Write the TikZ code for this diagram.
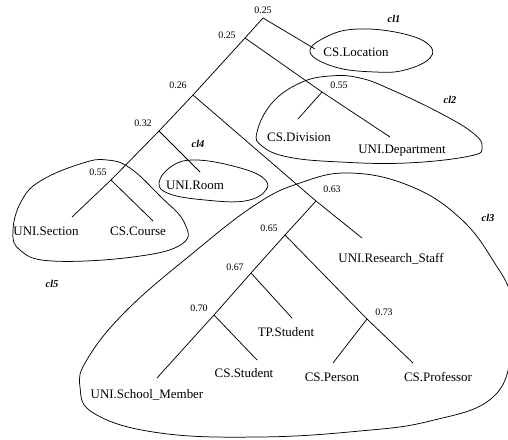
\documentclass[tikz,border=0pt]{standalone}
\usepackage{fontspec}
\setmainfont{Liberation Serif}
\begin{document}
\begin{tikzpicture}[x=1bp,y=-1bp,
  branch/.style={line width=0.75pt},
  leaf/.style={font=\fontsize{13}{15}\selectfont, inner sep=0pt},
  score/.style={font=\fontsize{10}{12}\selectfont, inner sep=0pt},
  clname/.style={font=\fontsize{10.5}{12}\selectfont\bfseries\itshape, inner sep=0pt},
  cluster/.style={line width=0.75pt, smooth cycle, tension=0.7}]
\useasboundingbox (0,0) rectangle (508,440);

% junctions of the dendrogram
\coordinate (r)    at (263,18);
\coordinate (a)    at (245,38);
\coordinate (b)    at (193,95);
\coordinate (c)    at (159,131);
\coordinate (d)    at (111,180);
\coordinate (e)    at (322,92);
\coordinate (f)    at (316,201);
\coordinate (g)    at (285,235);
\coordinate (h)    at (251,273);
\coordinate (k)    at (214,315);
\coordinate (m)    at (367,319);

% free ends of the leaf branches
\coordinate (tLoc)  at (315,49);
\coordinate (tDiv)  at (298,119);
\coordinate (tDep)  at (390,137);
\coordinate (tRoom) at (200,172);
\coordinate (tSec)  at (72,217);
\coordinate (tCou)  at (153,221);
\coordinate (tRS)   at (362,238);
\coordinate (tTP)   at (292,318);
\coordinate (tCSS)  at (257,360);
\coordinate (tSch)  at (157,378);
\coordinate (tPer)  at (333,363);
\coordinate (tPro)  at (413,363);

% similarity scores
\node[score] (sr) at (263,10)  {0.25};
\node[score] (sa) at (227,35)  {0.25};
\node[score] (sb) at (178,85)  {0.26};
\node[score] (sc) at (143,123) {0.32};
\node[score] (sd) at (98,172)  {0.55};
\node[score] (se) at (339,85)  {0.55};
\node[score] (sf) at (332,189) {0.63};
\node[score] (sg) at (269,228) {0.65};
\node[score] (sh) at (235,267) {0.67};
\node[score] (sk) at (199,308) {0.70};
\node[score] (sm) at (384,312) {0.73};

% leaves
\node[leaf] (loc)  at (356,52)  {CS.Location};
\node[leaf] (div)  at (299,137) {CS.Division};
\node[leaf] (dep)  at (402,151) {UNI.Department};
\node[leaf] (room) at (195,185) {UNI.Room};
\node[leaf] (sec)  at (46,231)  {UNI.Section};
\node[leaf] (cou)  at (138,231) {CS.Course};
\node[leaf] (rs)   at (391,259) {UNI.Research\_Staff};
\node[leaf] (tp)   at (286,332) {TP.Student};
\node[leaf] (css)  at (244,373) {CS.Student};
\node[leaf] (sch)  at (147,395) {UNI.School\_Member};
\node[leaf] (per)  at (332,377) {CS.Person};
\node[leaf] (pro)  at (438,377) {CS.Professor};

% branches
\draw[branch] (tLoc) -- (r) -- (a) -- (b) -- (c) -- (d) -- (tSec);
\draw[branch] (a) -- (e) -- (tDep);
\draw[branch] (e) -- (tDiv);
\draw[branch] (b) -- (f) -- (tRS);
\draw[branch] (c) -- (tRoom);
\draw[branch] (d) -- (tCou);
\draw[branch] (f) -- (g) -- (h) -- (k) -- (tSch);
\draw[branch] (g) -- (m) -- (tPro);
\draw[branch] (m) -- (tPer);
\draw[branch] (h) -- (tTP);
\draw[branch] (k) -- (tCSS);

% clusters
\draw[cluster] plot coordinates {(310,52) (328,36) (358,29) (400,33) (428,44) (430,58) (405,70) (375,72) (335,67)};
\draw[cluster] plot coordinates {(257,132) (272,103) (300,83) (330,76) (360,78) (392,90) (440,113) (473,133) (482,147) (470,156) (407,163) (340,162) (288,157) (262,146)};
\draw[cluster] plot coordinates {(159,183) (172,166) (195,160) (233,166) (262,177) (266,190) (245,201) (205,200) (170,194)};
\draw[cluster] plot coordinates {(13,230) (22,200) (42,180) (83,163) (107,160) (130,168) (160,196) (184,222) (182,244) (133,257) (52,261) (20,250)};
\draw[cluster] plot coordinates {(300,183) (350,173) (410,186) (460,218) (494,262) (512,300) (512,350) (492,398) (430,421) (360,431) (260,437) (160,433) (95,414) (80,387) (88,358) (127,310) (193,253) (255,205)};

% cluster names
\node[clname] (l1) at (394,19)  {cl1};
\node[clname] (l2) at (450,100) {cl2};
\node[clname] (l3) at (488,218) {cl3};
\node[clname] (l4) at (198,144) {cl4};
\node[clname] (l5) at (52,284)  {cl5};
\end{tikzpicture}
\end{document}
